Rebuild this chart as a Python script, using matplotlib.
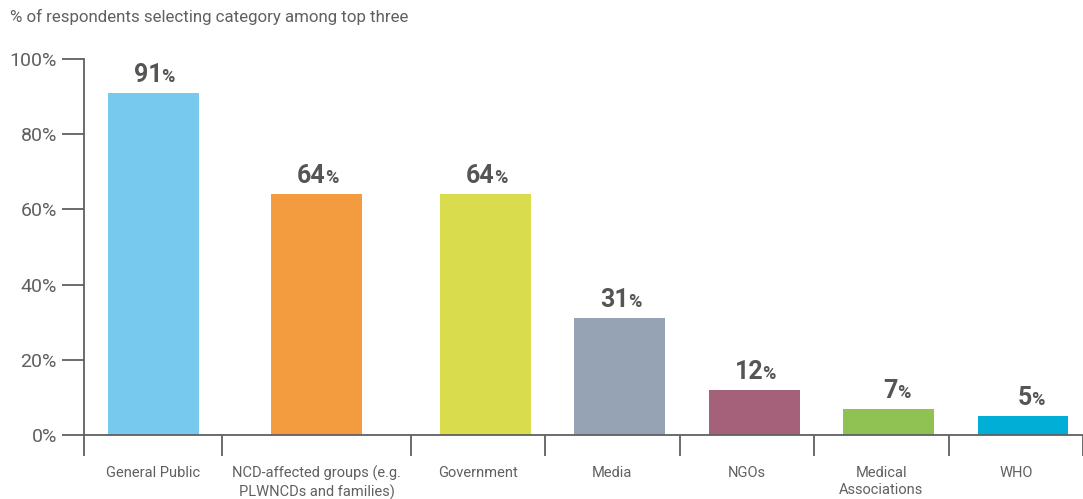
import numpy as np
import matplotlib.pyplot as plt

# categories and shares
categories = ['General Public', 'NCD-affected groups (e.g.\nPLWNCDs and families)', 'Government',
              'Media', 'NGOs', 'Medical\nAssociations', 'WHO']
values = [91, 64, 64, 31, 12, 7, 5]
colors = ['#78C9EE', '#F39B3F', '#D9DC4C', '#96A3B4', '#A5607A', '#8FC153', '#00AED6']
yticks = [0, 20, 40, 60, 80, 100]

grey = '#5f6062'
plt.rcParams['font.family'] = ['Roboto', 'DejaVu Sans']

fig = plt.figure(figsize=(10.83, 4.99), dpi=100)
ax = fig.add_axes([84/1083, 64/499, 999/1083, 376/499])

# slot widths: second category is wider to fit its long label
slots = np.array([1.03, 1.4, 1, 1, 1, 1, 1])
edges = np.concatenate([[0], np.cumsum(slots)])
centers = (edges[:-1] + edges[1:]) / 2
bar_x = centers + np.where(np.arange(len(slots)) >= 2, 0.055, 0)

ax.bar(bar_x, values, width=0.674, color=colors, zorder=2)

ax.set_xlim(0, 999/135)
ax.set_ylim(0, 100)
ax.set_yticks(yticks)
ax.set_yticklabels([f'{v}%' for v in yticks], fontsize=14, color=grey)
ax.tick_params(axis='y', length=16, width=1.3, color=grey, pad=3.5)

ax.set_xticks(centers)
ax.set_xticklabels(categories, fontsize=10.5, color=grey, linespacing=1.35)
ax.tick_params(axis='x', which='major', length=0, pad=22)
ax.set_xticks(edges, minor=True)
ax.tick_params(axis='x', which='minor', length=15, width=1.3, color=grey, direction='out')

for s in ['top', 'right']:
    ax.spines[s].set_visible(False)
for s in ['left', 'bottom']:
    ax.spines[s].set_color(grey)
    ax.spines[s].set_linewidth(1.3)

for xi, v in zip(bar_x, values):
    ax.annotate(str(v), (xi, v), xytext=(6.5, 8), textcoords='offset points',
                ha='right', va='baseline', fontsize=18, fontweight='bold', color='#555555')
    ax.annotate('%', (xi, v), xytext=(6, 8), textcoords='offset points',
                ha='left', va='baseline', fontsize=13, fontweight='bold', color='#555555')

fig.text(10/1083, 1 - 17/499, '% of respondents selecting category among top three',
         fontsize=12.2, color=grey, va='center', ha='left')

fig.savefig('out.png', dpi=100)
